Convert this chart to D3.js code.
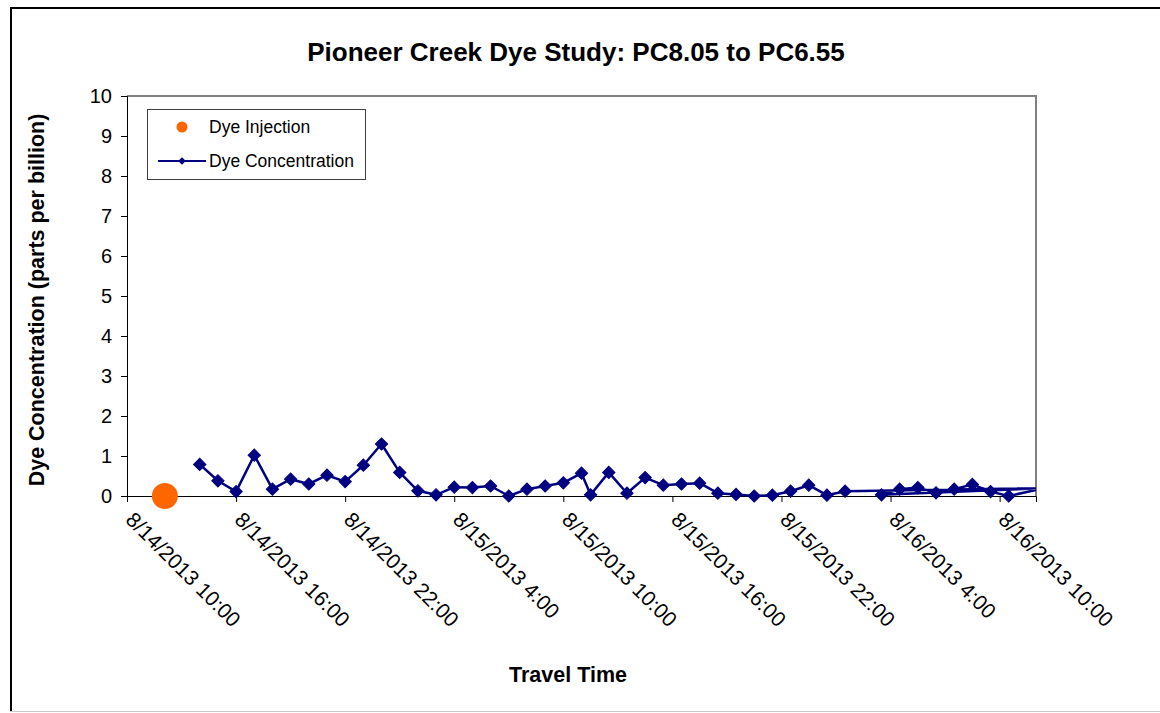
<!DOCTYPE html>
<html>
<head>
<meta charset="utf-8">
<script src="https://cdn.jsdelivr.net/npm/d3@7"></script>
<style>
  body { margin: 0; background: #fff; }
  svg text { font-family: "Liberation Sans", Arial, sans-serif; fill: #000; }
</style>
</head>
<body>
<div id="chart"></div>
<script>
var width = 1160,
    height = 713,
    plotLeft = 127,
    plotRight = 1036,
    plotTop = 96,
    plotBottom = 496;

// sample times and dye readings (ppb), in the order they were logged
var sampleTimes = [
  "8/14/2013 14:00", "8/14/2013 15:00", "8/14/2013 16:00", "8/14/2013 17:00",
  "8/14/2013 18:00", "8/14/2013 19:00", "8/14/2013 20:00", "8/14/2013 21:00",
  "8/14/2013 22:00", "8/14/2013 23:00", "8/15/2013 0:00", "8/15/2013 1:00",
  "8/15/2013 2:00", "8/15/2013 3:00", "8/15/2013 4:00", "8/15/2013 5:00",
  "8/15/2013 6:00", "8/15/2013 7:00", "8/15/2013 8:00", "8/15/2013 9:00",
  "8/15/2013 10:00", "8/15/2013 11:00", "8/15/2013 11:30", "8/15/2013 12:30",
  "8/15/2013 13:30", "8/15/2013 14:30", "8/15/2013 15:30", "8/15/2013 16:30",
  "8/15/2013 17:30", "8/15/2013 18:30", "8/15/2013 19:30", "8/15/2013 20:30",
  "8/15/2013 21:30", "8/15/2013 22:30", "8/15/2013 23:30", "8/16/2013 0:30",
  "8/16/2013 1:30", "8/16/2013 12:30", "8/16/2013 3:30", "8/16/2013 4:30",
  "8/16/2013 5:30", "8/16/2013 6:30", "8/16/2013 7:30", "8/16/2013 8:30",
  "8/16/2013 9:30", "8/16/2013 10:30", "8/16/2013 12:30"
];
var concentration = [
  0.79, 0.38, 0.11, 1.02, 0.17, 0.42, 0.30, 0.52, 0.36, 0.77, 1.30, 0.59,
  0.13, 0.03, 0.22, 0.21, 0.25, 0.00, 0.17, 0.25, 0.33, 0.57, 0.03, 0.59,
  0.07, 0.46, 0.27, 0.30, 0.32, 0.07, 0.04, 0.00, 0.02, 0.12, 0.27, 0.02,
  0.12, 0.20, 0.03, 0.17, 0.21, 0.08, 0.17, 0.29, 0.11, 0.00, 0.20
];

var injectionTimes = ["8/14/2013 12:05"];
var injectionValues = [0];

var xTickLabels = [
  "8/14/2013 10:00", "8/14/2013 16:00", "8/14/2013 22:00", "8/15/2013 4:00",
  "8/15/2013 10:00", "8/15/2013 16:00", "8/15/2013 22:00", "8/16/2013 4:00",
  "8/16/2013 10:00"
];
var xDomain = ["8/14/2013 10:00", "8/16/2013 12:00"];
var yTicks = [0, 1, 2, 3, 4, 5, 6, 7, 8, 9, 10];

var parseTime = d3.timeParse("%m/%d/%Y %H:%M");

var data = sampleTimes.map(function(t, i) {
    return { t: parseTime(t), v: concentration[i] };
});
var injections = injectionTimes.map(function(t, i) {
    return { t: parseTime(t), v: injectionValues[i] };
});

var x = d3.scaleTime().domain(xDomain.map(parseTime)).range([plotLeft, plotRight]);
var y = d3.scaleLinear().domain([0, 10]).range([plotBottom, plotTop]);

var svg = d3.select("#chart").append("svg").attr("width", width).attr("height", height);

// outer chart frame
svg.append("rect").attr("x", 0).attr("y", 0).attr("width", width).attr("height", height).attr("fill", "#fff");
svg.append("line").attr("x1", 11).attr("x2", width).attr("y1", 8).attr("y2", 8).attr("stroke", "#000").attr("stroke-width", 2);
svg.append("line").attr("x1", 11).attr("x2", 11).attr("y1", 7).attr("y2", 711).attr("stroke", "#000").attr("stroke-width", 2);
svg.append("line").attr("x1", 10).attr("x2", width).attr("y1", 711.5).attr("y2", 711.5).attr("stroke", "#c8c8c8").attr("stroke-width", 1);

// plot area border (top/right)
svg.append("path")
    .attr("d", "M" + plotLeft + "," + plotTop + "H" + plotRight + "V" + plotBottom)
    .attr("fill", "none").attr("stroke", "#808080").attr("stroke-width", 2);

// y axis
var yAxis = svg.append("g").attr("transform", "translate(" + plotLeft + ",0)")
    .call(d3.axisLeft(y).tickValues(yTicks).tickSize(6).tickPadding(9));
yAxis.select(".domain").attr("stroke", "#000");
yAxis.selectAll(".tick line").attr("stroke", "#000");
yAxis.selectAll("text").attr("font-size", 20).attr("font-family", "Liberation Sans, Arial, sans-serif");

// x axis
var xAxis = svg.append("g").attr("transform", "translate(0," + plotBottom + ")")
    .call(d3.axisBottom(x).tickValues(xTickLabels.map(parseTime)).tickSize(6)
        .tickFormat(function(d, i) { return xTickLabels[i]; }));
xAxis.select(".domain").attr("stroke", "#000");
xAxis.selectAll(".tick line").attr("stroke", "#000");
xAxis.selectAll("text")
    .attr("font-size", 21)
    .attr("font-family", "Liberation Sans, Arial, sans-serif")
    .attr("text-anchor", "start")
    .attr("y", 0).attr("dy", 0)
    .attr("transform", "translate(-3,25) rotate(45)");

// clip the series to the plot area
svg.append("clipPath").attr("id", "plotclip").append("rect")
    .attr("x", plotLeft).attr("y", plotTop - 10).attr("width", plotRight - plotLeft).attr("height", plotBottom - plotTop + 20);

var plot = svg.append("g").attr("clip-path", "url(#plotclip)");

var line = d3.line().x(function(d) { return x(d.t); }).y(function(d) { return y(d.v); });

plot.append("path").datum(data)
    .attr("d", line)
    .attr("fill", "none").attr("stroke", "#000080").attr("stroke-width", 2.5)
    .attr("stroke-linejoin", "round");

var diamond = d3.symbol().type(d3.symbolSquare).size(76);

plot.selectAll("path.marker").data(data.filter(function(d) { return d.t <= x.domain()[1]; }))
    .enter().append("path").attr("class", "marker")
    .attr("d", diamond)
    .attr("transform", function(d) { return "translate(" + x(d.t) + "," + y(d.v) + ") rotate(45)"; })
    .attr("fill", "#000080").attr("stroke", "#000080").attr("stroke-width", 1);

svg.selectAll("circle.inject").data(injections).enter().append("circle").attr("class", "inject")
    .attr("cx", function(d) { return x(d.t); })
    .attr("cy", function(d) { return y(d.v); })
    .attr("r", 13).attr("fill", "#ff6600");

// titles
svg.append("text").attr("x", 576).attr("y", 61).attr("text-anchor", "middle")
    .attr("font-size", 26).attr("font-weight", "bold")
    .text("Pioneer Creek Dye Study:  PC8.05 to PC6.55");

svg.append("text").attr("transform", "translate(44,300) rotate(-90)").attr("text-anchor", "middle")
    .attr("font-size", 21.5).attr("font-weight", "bold")
    .text("Dye Concentration (parts per billion)");

svg.append("text").attr("x", 568).attr("y", 682).attr("text-anchor", "middle")
    .attr("font-size", 21.5).attr("font-weight", "bold")
    .text("Travel Time");

// legend
var legend = svg.append("g");
legend.append("rect").attr("x", 147.5).attr("y", 109.5).attr("width", 218).attr("height", 70)
    .attr("fill", "#fff").attr("stroke", "#404040").attr("stroke-width", 1);
legend.append("circle").attr("cx", 182).attr("cy", 127).attr("r", 5.5).attr("fill", "#ff6600");
legend.append("text").attr("x", 209).attr("y", 133).attr("font-size", 17.5).text("Dye Injection");
legend.append("line").attr("x1", 158).attr("x2", 206).attr("y1", 161).attr("y2", 161)
    .attr("stroke", "#000080").attr("stroke-width", 2);
legend.append("path").attr("d", d3.symbol().type(d3.symbolSquare).size(30))
    .attr("transform", "translate(182,161) rotate(45)").attr("fill", "#000080");
legend.append("text").attr("x", 209).attr("y", 167).attr("font-size", 17.5).text("Dye Concentration");
</script>
</body>
</html>
